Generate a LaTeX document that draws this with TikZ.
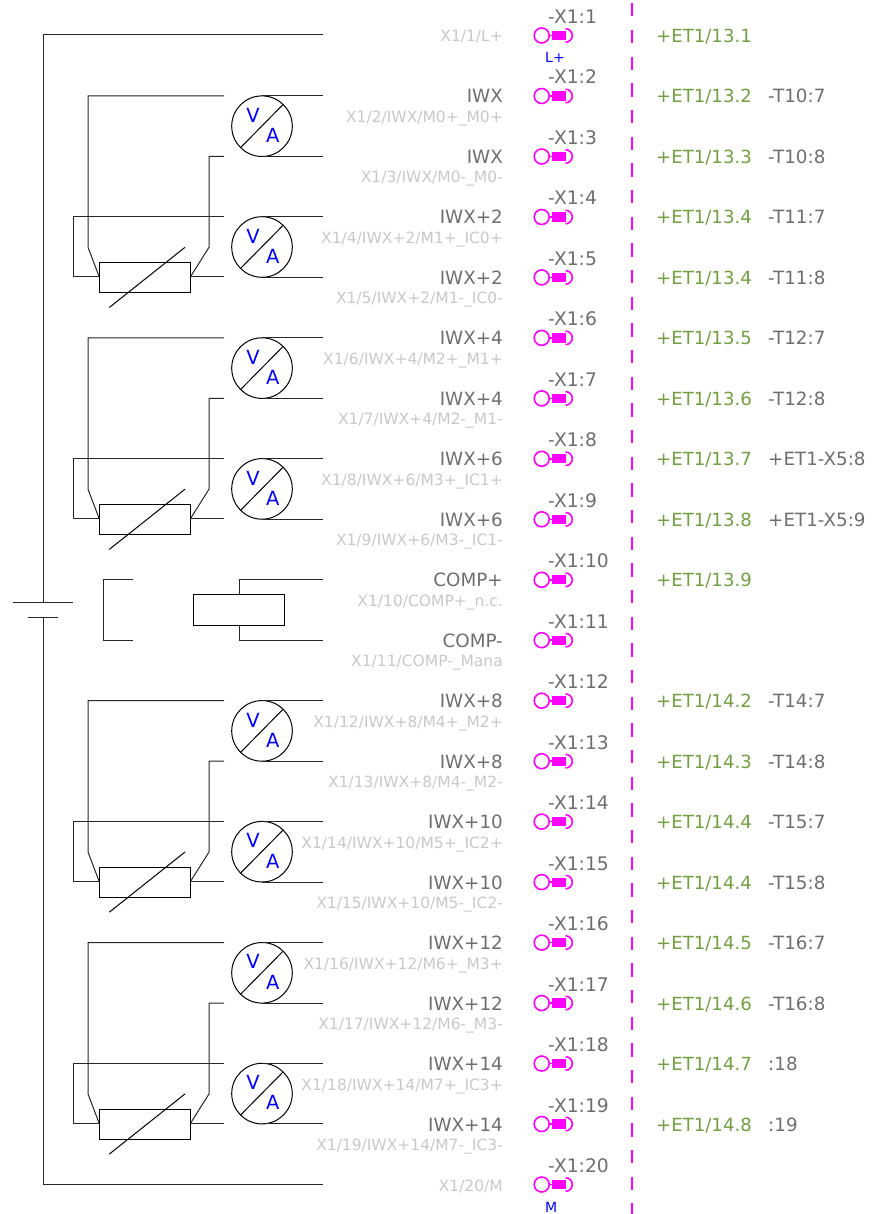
\documentclass[tikz,border=0pt]{standalone}
\usepackage{fontspec}
\setmainfont{DejaVu Sans}
\definecolor{pinmagenta}{RGB}{255,0,255}
\definecolor{wiregreen}{RGB}{112,160,64}
\definecolor{labelgray}{RGB}{110,110,110}
\definecolor{palegray}{RGB}{200,200,200}
\tikzset{
  wire/.style={line width=1pt,black!85},
  pin/.style={line width=1.6pt,pinmagenta},
  signame/.style={anchor=base east,inner sep=0,text=labelgray,font=\fontsize{18.3}{19}\selectfont},
  paleref/.style={anchor=base east,inner sep=0,text=palegray,font=\fontsize{15.5}{16}\selectfont},
  pinname/.style={anchor=base west,inner sep=0,text=labelgray,font=\fontsize{18.7}{19}\selectfont},
  etref/.style={anchor=base west,inner sep=0,text=wiregreen,font=\fontsize{18.1}{19}\selectfont},
  devref/.style={anchor=base west,inner sep=0,text=labelgray,font=\fontsize{18.3}{19}\selectfont},
  letter/.style={inner sep=0,text=blue,font=\fontsize{19.5}{20}\selectfont},
  potential/.style={anchor=base west,inner sep=0,text=blue,font=\fontsize{14}{14}\selectfont},
}
% one row of the terminal strip
\newcommand{\xrow}[7]{
  \draw[pin](541.7,#2)circle(7.5);
  \draw[pin](549,#2)--(553,#2);
  \fill[pinmagenta](552.3,#2-4.6)rectangle(565.7,#2+4.6);
  \draw[pin](565.5,#2-6.8)arc(-90:90:6.8);
  \node[pinname](top#1) at (548,#2-12){-X1:#1};
  \node[signame](name#1) at (503,#2+7){#3};
  \node[paleref](pale#1) at (503,#2+#7){#4};
  \node[etref](et#1) at (656,#2+7){#5};
  \node[devref](dev#1) at (768,#2+7){#6};
}
% meters and resistor of one group
\newcommand{\vagroup}[2]{
  \begin{scope}[shift={(0,#2)}]
    \draw[wire](224,96)--(88,96)--(88,247.3)--(99.3,277);
    \draw[wire](224,156.5)--(209,156.5)--(209,247.3)--(190.3,277);
    \draw[wire](224,217)--(73,217)--(73,277)--(99.3,277);
    \draw[wire](190.3,277)--(224,277);
    \node[draw,line width=1pt,minimum width=91pt,minimum height=30pt,inner sep=0](res#1) at (144.8,277.5){};
    \draw[line width=1pt](109.3,307.5)--(185,247.3);
    \foreach \y/\n in {126.2/a,247/b}{
      \node[draw,circle,line width=1pt,minimum size=60.6pt,inner sep=0](va#1\n) at (262,\y){};
      \draw[line width=1pt](240.7,\y+21.3)--(282.7,\y-21.3);
      \node[letter](v#1\n) at (253,\y-11){V};
      \node[letter](a#1\n) at (272.7,\y+9.2){A};
      \draw[wire](262,\y-30.3)--(323,\y-30.3);
      \draw[wire](262,\y+30.3)--(323,\y+30.3);
    }
  \end{scope}
}
\begin{document}
\begin{tikzpicture}[x=1pt,y=-1pt]
  \useasboundingbox(0,0)rectangle(873,1214);
  % bus and battery
  \draw[wire](323,35)--(43,35)--(43,602.5);
  \draw[wire](43,617.5)--(43,1184.5)--(323,1184.5);
  \draw[wire](12.5,602.5)--(73,602.5);
  \draw[wire](28,617.5)--(58,617.5);
  % meters
  \vagroup{1}{0}
  \vagroup{2}{241.9}
  \vagroup{3}{604.7}
  \vagroup{4}{846.6}
  % COMP
  \draw[wire](133,579.5)--(103,579.5)--(103,640)--(133,640);
  \draw[wire](323,579.5)--(239,579.5)--(239,594.5);
  \draw[wire](239,625)--(239,640)--(323,640);
  \node[draw,line width=1pt,minimum width=91pt,minimum height=30.5pt,inner sep=0](coil) at (239.2,609.8){};
  % dashed line
  \clip(0,0)rectangle(873,1214);
  \draw[pinmagenta,line width=1.6pt,dash pattern=on 13.3pt off 13.37pt](632,3.2)--(632,1220);
  % terminals
  \xrow{1}{35.5}{}{X1/1/L+}{+ET1/13.1}{}{6.5}
  \xrow{2}{96}{IWX}{X1/2/IWX/M0+\_M0+}{+ET1/13.2}{-T10:7}{26.5}
  \xrow{3}{156.5}{IWX}{X1/3/IWX/M0-\_M0-}{+ET1/13.3}{-T10:8}{26.5}
  \xrow{4}{217}{IWX+2}{X1/4/IWX+2/M1+\_IC0+}{+ET1/13.4}{-T11:7}{26.5}
  \xrow{5}{277.4}{IWX+2}{X1/5/IWX+2/M1-\_IC0-}{+ET1/13.4}{-T11:8}{26.5}
  \xrow{6}{337.9}{IWX+4}{X1/6/IWX+4/M2+\_M1+}{+ET1/13.5}{-T12:7}{26.5}
  \xrow{7}{398.4}{IWX+4}{X1/7/IWX+4/M2-\_M1-}{+ET1/13.6}{-T12:8}{26.5}
  \xrow{8}{458.8}{IWX+6}{X1/8/IWX+6/M3+\_IC1+}{+ET1/13.7}{+ET1-X5:8}{26.5}
  \xrow{9}{519.3}{IWX+6}{X1/9/IWX+6/M3-\_IC1-}{+ET1/13.8}{+ET1-X5:9}{26.5}
  \xrow{10}{579.8}{COMP+}{X1/10/COMP+\_n.c.}{+ET1/13.9}{}{26.5}
  \xrow{11}{640.2}{COMP-}{X1/11/COMP-\_Mana}{}{}{26.5}
  \xrow{12}{700.7}{IWX+8}{X1/12/IWX+8/M4+\_M2+}{+ET1/14.2}{-T14:7}{26.5}
  \xrow{13}{761.2}{IWX+8}{X1/13/IWX+8/M4-\_M2-}{+ET1/14.3}{-T14:8}{26.5}
  \xrow{14}{821.6}{IWX+10}{X1/14/IWX+10/M5+\_IC2+}{+ET1/14.4}{-T15:7}{26.5}
  \xrow{15}{882.1}{IWX+10}{X1/15/IWX+10/M5-\_IC2-}{+ET1/14.4}{-T15:8}{26.5}
  \xrow{16}{942.6}{IWX+12}{X1/16/IWX+12/M6+\_M3+}{+ET1/14.5}{-T16:7}{26.5}
  \xrow{17}{1003}{IWX+12}{X1/17/IWX+12/M6-\_M3-}{+ET1/14.6}{-T16:8}{26.5}
  \xrow{18}{1063.5}{IWX+14}{X1/18/IWX+14/M7+\_IC3+}{+ET1/14.7}{:18}{26.5}
  \xrow{19}{1124}{IWX+14}{X1/19/IWX+14/M7-\_IC3-}{+ET1/14.8}{:19}{26.5}
  \xrow{20}{1184.5}{}{X1/20/M}{}{}{6.5}
  % potentials
  \node[potential](lplus) at (545,63){L+};
  \node[potential](lminus) at (545,1212){M};
\end{tikzpicture}
\end{document}
